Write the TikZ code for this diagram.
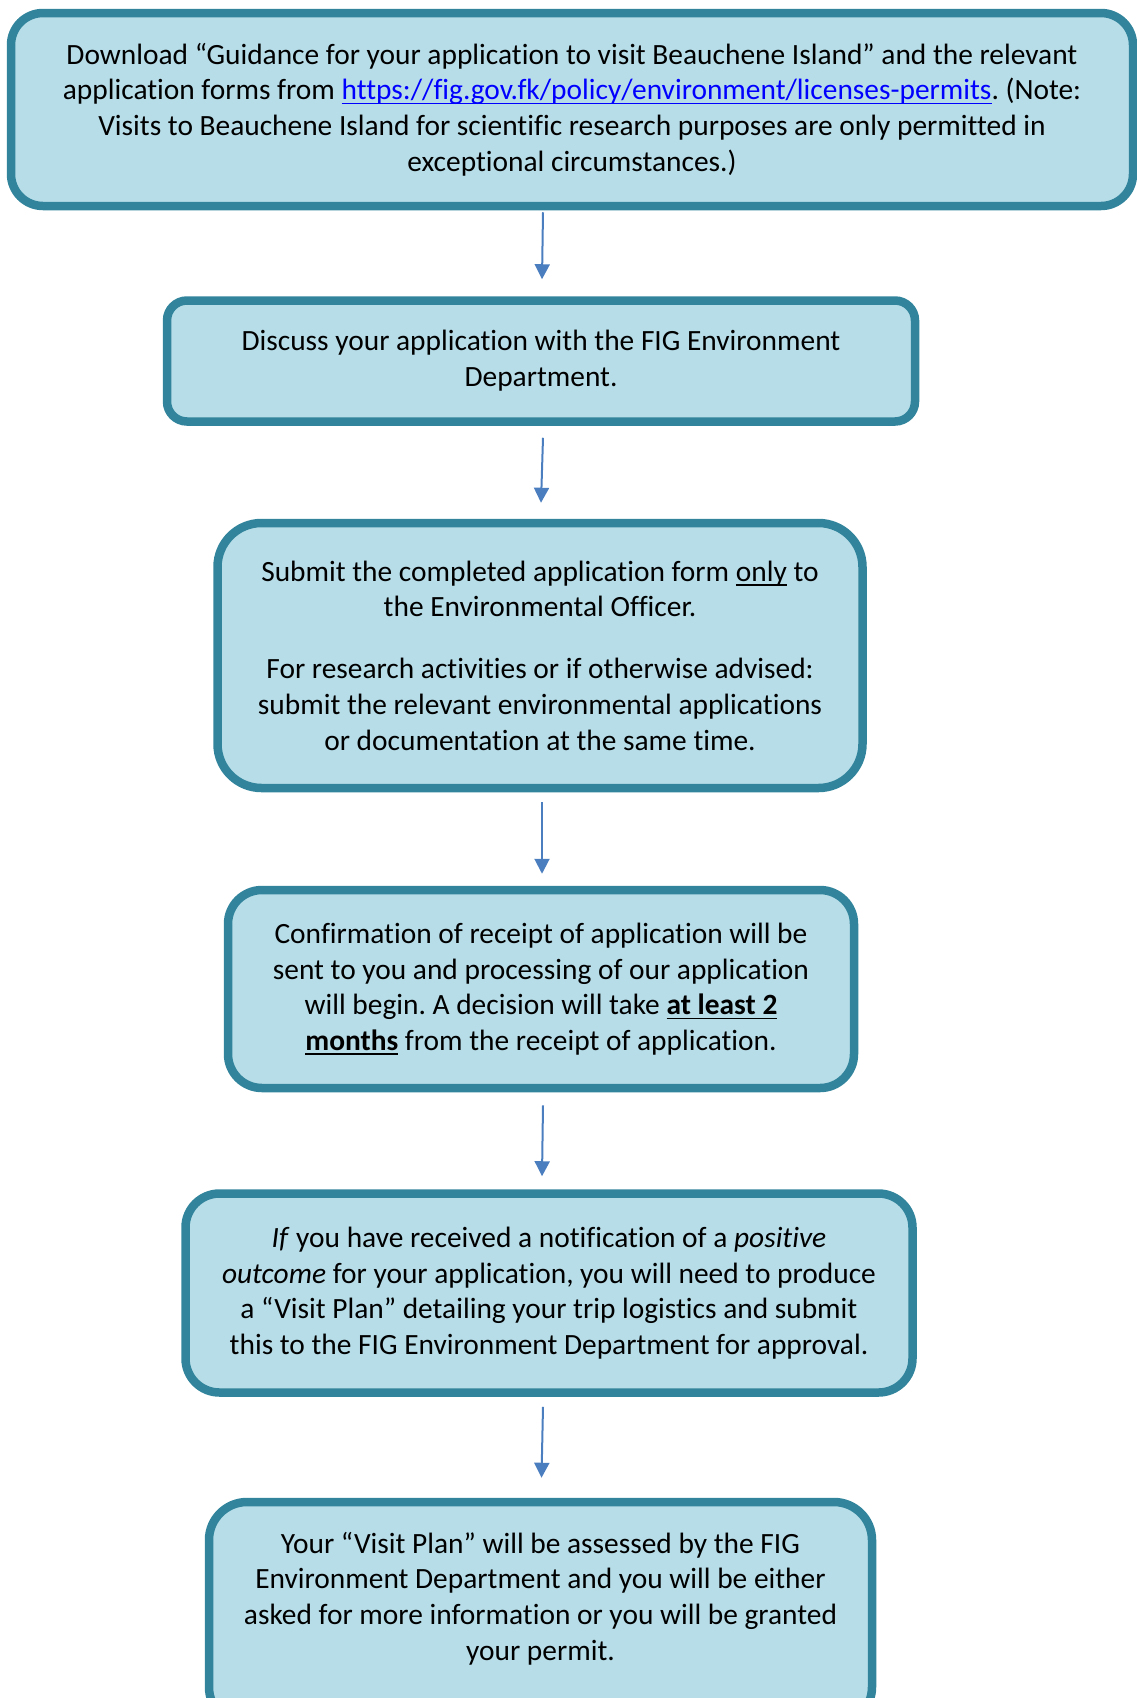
\documentclass[tikz,border=0pt]{standalone}
\usepackage{fontspec}
\setmainfont{Carlito}[Ligatures=NoCommon]
\usetikzlibrary{arrows.meta}
\definecolor{boxfill}{HTML}{B7DDE8}
\definecolor{boxline}{HTML}{31849B}
\definecolor{arrowc}{HTML}{4A7EBF}
\definecolor{linkc}{HTML}{0000FF}
\newsavebox\myulbox
\newcommand\myul[1]{\sbox\myulbox{#1}\rlap{\rule[-4.5pt]{\wd\myulbox}{1.6pt}}\usebox\myulbox}
\frenchspacing
\tikzset{
  stepbox/.style={draw=boxline, fill=boxfill, line width=8.5pt, align=center, inner sep=0pt,
    font=\fontsize{29.4}{35.7}\selectfont, text=black},
  arr/.style={draw=arrowc, line width=2pt, -{Triangle[width=15pt,length=15pt]}},
}
\begin{document}
\begin{tikzpicture}[x=1pt,y=-1pt]
\useasboundingbox (0,0) rectangle (1137,1698);
\begin{scope}
\clip (0,0) rectangle (1137,1698);
\node[stepbox, rounded corners=32pt, minimum width=1122pt, minimum height=193pt] (a) at (572,109.5)
{Download “Guidance for your application to visit Beauchene Island” and the relevant\\
application forms from \textcolor{linkc}{\myul{https://fig.gov.fk/policy/environment/licenses-permits}}. (Note:\\
Visits to Beauchene Island for scientific research purposes are only permitted in\\
exceptional circumstances.)};
\node[stepbox, rounded corners=20pt, minimum width=748pt, minimum height=121pt] (b) at (541,361)
{Discuss your application with the FIG Environment\\ Department.};
\node[stepbox, rounded corners=44pt, minimum width=645pt, minimum height=265pt] (c) at (540,655.5)
{Submit the completed application form \myul{only} to\\
the Environmental Officer.\\[26pt]
For research activities or if otherwise advised:\\
submit the relevant environmental applications\\
or documentation at the same time.};
\node[stepbox, rounded corners=34pt, minimum width=626pt, minimum height=198pt] (d) at (541,989)
{Confirmation of receipt of application will be\\
sent to you and processing of our application\\
will begin. A decision will take \textbf{\myul{at least 2}}\\
\textbf{\myul{months}} from the receipt of application.};
\node[stepbox, rounded corners=34pt, minimum width=727pt, minimum height=199pt] (e) at (549,1293)
{\textit{If} you have received a notification of a \textit{positive}\\
\textit{outcome} for your application, you will need to produce\\
a “Visit Plan” detailing your trip logistics and submit\\
this to the FIG Environment Department for approval.};
\node[stepbox, rounded corners=38pt, minimum width=663pt, minimum height=223pt] (f) at (540.5,1613.5)
{Your “Visit Plan” will be assessed by the FIG\\
Environment Department and you will be either\\
asked for more information or you will be granted\\
your permit.\\[-1pt]\mbox{}};
\end{scope}
\draw[arr] ([xshift=-29pt,yshift=-2pt]a.south) -- ([xshift=1pt,yshift=17pt]b.north);
\draw[arr] ([xshift=2pt,yshift=-12pt]b.south) -- ([xshift=1pt,yshift=16pt]c.north);
\draw[arr] ([xshift=2pt,yshift=-10pt]c.south) -- ([xshift=1pt,yshift=12pt]d.north);
\draw[arr] ([xshift=2pt,yshift=-13pt]d.south) -- ([xshift=-7pt,yshift=13pt]e.north);
\draw[arr] ([xshift=-6pt,yshift=-10pt]e.south) -- ([xshift=1pt,yshift=20pt]f.north);
\end{tikzpicture}
\end{document}
